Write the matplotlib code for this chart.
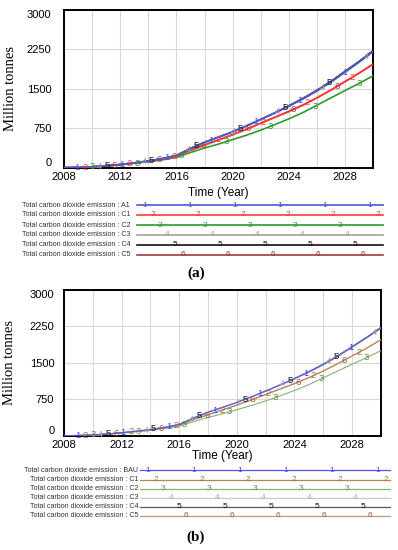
import numpy as np
import matplotlib
matplotlib.use("Agg")
import matplotlib.pyplot as plt
from matplotlib.lines import Line2D

years = list(range(2008, 2031))

# Million tonnes
a1 = [0, 5, 15, 35, 60, 90, 125, 170, 230, 360, 480, 580, 685, 800, 920, 1040, 1170, 1310, 1460, 1630, 1820, 2010, 2210]
c1 = [0, 5, 15, 35, 58, 88, 120, 160, 215, 330, 430, 530, 630, 735, 850, 960, 1075, 1195, 1330, 1480, 1640, 1800, 1970]
c2 = [0, 5, 15, 33, 55, 83, 112, 150, 195, 290, 375, 450, 535, 620, 715, 820, 930, 1050, 1190, 1330, 1470, 1605, 1750]
c3 = [0, 5, 15, 35, 60, 90, 125, 170, 230, 360, 480, 580, 685, 800, 920, 1040, 1170, 1310, 1460, 1630, 1820, 2010, 2210]
c4 = [0, 5, 15, 38, 62, 92, 130, 175, 235, 370, 485, 585, 680, 795, 920, 1045, 1180, 1320, 1475, 1645, 1835, 2025, 2230]
c5 = [0, 5, 15, 35, 58, 88, 122, 162, 218, 332, 432, 528, 628, 732, 848, 958, 1068, 1190, 1330, 1480, 1640, 1800, 1975]

series = [a1, c1, c2, c3, c4, c5]
names_a = ["A1", "C1", "C2", "C3", "C4", "C5"]
names_b = ["BAU", "C1", "C2", "C3", "C4", "C5"]

colors_a = ["#4a58d8", "#ff3b3b", "#2e9a2e", "#a0a0a0", "#111111", "#a23a3a"]
colors_b = ["#5555ee", "#b4875a", "#86b474", "#c8c8c8", "#5a5a5a", "#cc9484"]
digit_b = ["#4444ee", "#a07038", "#5a8a40", "#aaaaaa", "#111111", "#a05a40"]

W, H = 398, 550
SANS = "Liberation Sans"
SERIF = "Liberation Serif"

fig = plt.figure(figsize=(W / 100, H / 100), dpi=100)


def fx(x):
    return x / W


def fy(y):
    return 1 - y / H


def panel(box, colors, dcolors, lw, tick_pad, ylab_x, xlab_pad):
    left, top, right, bottom = box
    ax = fig.add_axes([fx(left), fy(bottom), fx(right - left), (bottom - top) / H])
    # draw last series first so the first ones sit on top
    for k in range(len(series) - 1, -1, -1):
        ax.plot(years, series[k], color=colors[k], lw=lw, zorder=3)
    # digit markers along the lines, Vensim style
    for i, (vals, col) in enumerate(zip(series, dcolors)):
        xs = 2008.95 + (i + 6 * np.arange(8)) * 0.528
        xs = xs[xs <= 2030.05]
        ys = np.interp(xs, years, vals)
        for x, y in zip(xs, ys):
            ax.text(x, y, str(i + 1), color=col, fontsize=6.8, family=SANS,
                    ha="center", va="center", zorder=4, clip_on=False)
    ax.set_xlim(2008, 2030)
    ax.set_ylim(0, 3000)
    ax.set_xticks(range(2008, 2030, 4))
    ax.set_xticks(range(2010, 2030, 2), minor=True)
    ax.set_yticks([0, 750, 1500, 2250, 3000])
    ax.set_yticklabels(["0", "750", "1500", "2250", "3000"])
    ax.grid(True, which="both", axis="x", color="#d8d8d8", lw=0.8, zorder=0)
    ax.grid(True, which="major", axis="y", color="#d8d8d8", lw=0.8, zorder=0)
    ax.tick_params(which="both", length=0)
    ax.tick_params(axis="x", pad=3, labelsize=8)
    ax.tick_params(axis="y", pad=tick_pad, labelsize=8)
    for lab in ax.get_xticklabels() + ax.get_yticklabels():
        lab.set_family(SANS)
    ylabs = ax.get_yticklabels()
    ylabs[0].set_va("bottom")
    ylabs[-1].set_va("top")
    for s in ax.spines.values():
        s.set_linewidth(1.4)
    ax.set_xlabel("Time (Year)", family=SANS, fontsize=8.5, labelpad=xlab_pad)
    ax.set_ylabel("Million tonnes", family=SERIF, fontsize=10.5)
    ax.yaxis.set_label_coords(ylab_x, 0.5)
    return ax


def legend(names, colors, dcolors, rows_y, text_right, line_l, line_r, lw, spacing):
    for i, (name, col, dcol, y) in enumerate(zip(names, colors, dcolors, rows_y)):
        fig.text(fx(text_right), fy(y), "Total carbon dioxide emission : " + name,
                 ha="right", va="center", fontsize=5.1, family=SANS, color="#333333")
        fig.add_artist(Line2D([fx(line_l), fx(line_r)], [fy(y), fy(y)],
                              color=col, lw=lw))
        x = line_l + 8 + i * spacing / 6
        while x < line_r + 2:
            fig.text(fx(x), fy(y), str(i + 1), ha="center", va="center",
                     fontsize=6, family=SANS, color=dcol)
            x += spacing


# panel (a)
panel((64, 10, 373.3, 167.7), colors_a, colors_a, 1.2, 9, -0.152, 4)
legend(names_a, colors_a, colors_a, [205, 215, 225, 235, 245, 255],
       130, 137, 383, 1.2, 45)
fig.text(fx(196), fy(273), "(a)", ha="center", va="center", fontsize=11,
         family=SERIF, fontweight="bold")

# panel (b)
panel((64, 290, 380.7, 435.7), colors_b, digit_b, 0.8, 7, -0.151, 0)
legend(names_b, colors_b, digit_b, [470, 479.5, 488.5, 497.5, 506.7, 515.7],
       138, 140, 390, 0.9, 46)
fig.text(fx(196), fy(537), "(b)", ha="center", va="center", fontsize=11,
         family=SERIF, fontweight="bold")

fig.savefig("out.png", dpi=100)
plt.close(fig)
